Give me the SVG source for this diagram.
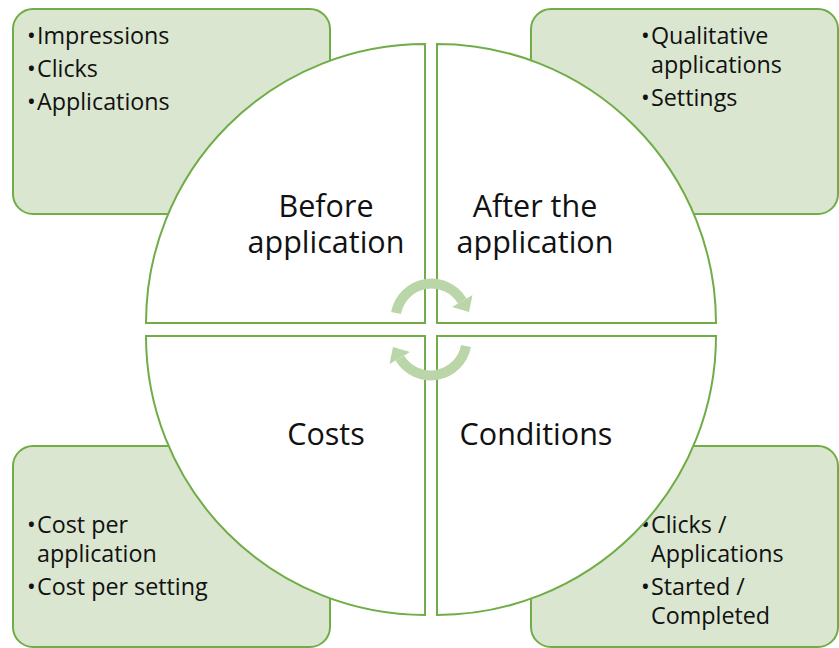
<svg xmlns="http://www.w3.org/2000/svg" width="839" height="648" viewBox="0 0 839 648">
  <style>
    .box { fill: #dae6d0; stroke: #70ad47; stroke-width: 2; }
    .quad { fill: #ffffff; stroke: #70ad47; stroke-width: 2; }
    .title { font-family: "Open Sans", "Liberation Sans", sans-serif; font-size: 30.5px; fill: #111111; text-anchor: middle; }
    .item { font-family: "Open Sans", "Liberation Sans", sans-serif; font-size: 23.3px; fill: #111111; }
    .cyc { fill: none; stroke: #bad6a8; stroke-width: 10; }
    .cychead { fill: #bad6a8; }
  </style>
  <rect width="839" height="648" fill="#ffffff"/>

  <!-- detail boxes behind the circle -->
  <g id="box-before">
    <rect class="box" x="13" y="9" width="317" height="205" rx="20"/>
    <text class="item"><tspan x="27" y="44">•</tspan><tspan x="37" y="44">Impressions</tspan></text>
    <text class="item"><tspan x="27" y="77">•</tspan><tspan x="37" y="77">Clicks</tspan></text>
    <text class="item"><tspan x="27" y="110">•</tspan><tspan x="37" y="110">Applications</tspan></text>
  </g>
  <g id="box-after">
    <rect class="box" x="531" y="9" width="307" height="205" rx="20"/>
    <text class="item"><tspan x="641" y="44">•</tspan><tspan x="651" y="44">Qualitative</tspan><tspan x="651" y="73">applications</tspan></text>
    <text class="item"><tspan x="641" y="106">•</tspan><tspan x="651" y="106">Settings</tspan></text>
  </g>
  <g id="box-costs">
    <rect class="box" x="13" y="446" width="317" height="201" rx="20"/>
    <text class="item"><tspan x="27" y="533">•</tspan><tspan x="37" y="533">Cost per</tspan><tspan x="37" y="562">application</tspan></text>
    <text class="item"><tspan x="27" y="595">•</tspan><tspan x="37" y="595">Cost per setting</tspan></text>
  </g>
  <g id="box-conditions">
    <rect class="box" x="531" y="446" width="307" height="201" rx="20"/>
    <text class="item"><tspan x="641" y="533">•</tspan><tspan x="651" y="533">Clicks /</tspan><tspan x="651" y="562">Applications</tspan></text>
    <text class="item"><tspan x="641" y="595">•</tspan><tspan x="651" y="595">Started /</tspan><tspan x="651" y="624">Completed</tspan></text>
  </g>

  <!-- four quarter-circle segments -->
  <g id="q-before">
    <path class="quad" d="M425,323 L146,323 A279,279 0 0 1 425,44 Z"/>
    <text class="title"><tspan x="326" y="217">Before</tspan><tspan x="326" y="253">application</tspan></text>
  </g>
  <g id="q-after">
    <path class="quad" d="M437,323 L437,44 A279,279 0 0 1 716,323 Z"/>
    <text class="title"><tspan x="535" y="217">After the</tspan><tspan x="535" y="253">application</tspan></text>
  </g>
  <g id="q-costs">
    <path class="quad" d="M425,336 L425,615 A279,279 0 0 1 146,336 Z"/>
    <text class="title" x="326" y="445">Costs</text>
  </g>
  <g id="q-conditions">
    <path class="quad" d="M437,336 L716,336 A279,279 0 0 1 437,615 Z"/>
    <text class="title" x="536" y="445">Conditions</text>
  </g>

  <!-- cycle arrows in the centre -->
  <g id="connectors">
    <g id="cycle-top">
      <path class="cyc" d="M396,313 A36,36 0 0 1 462.2,301"/>
      <polygon class="cychead" points="472.5,295 452,307 469,312"/>
    </g>
    <g id="cycle-bottom" transform="rotate(180 431 329.5)">
      <path class="cyc" d="M396,313 A36,36 0 0 1 462.2,301"/>
      <polygon class="cychead" points="472.5,295 452,307 469,312"/>
    </g>
  </g>
</svg>
